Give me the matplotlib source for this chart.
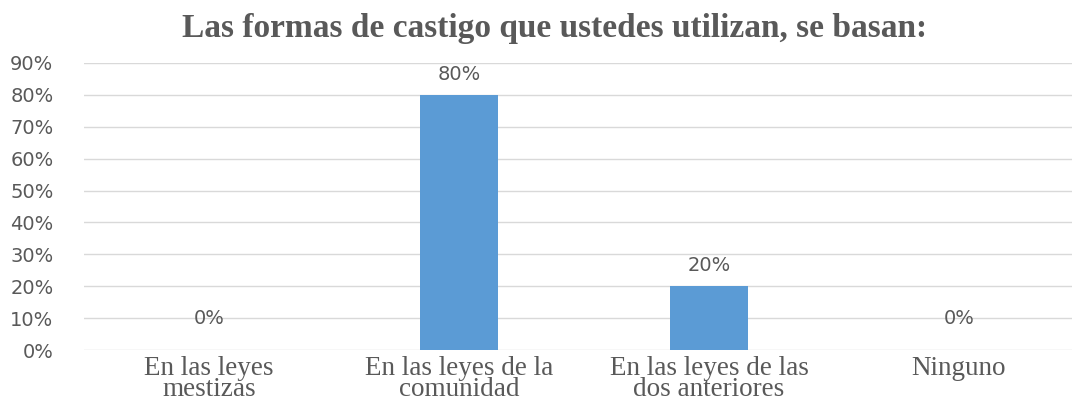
import matplotlib.pyplot as plt
from matplotlib.ticker import PercentFormatter

categories = [
    "En las leyes\nmestizas",
    "En las leyes de la\ncomunidad",
    "En las leyes de las\ndos anteriores",
    "Ninguno",
]
values = [0.0, 0.80, 0.20, 0.0]
value_labels = ["0%", "80%", "20%", "0%"]
y_ticks = [0.0, 0.1, 0.2, 0.3, 0.4, 0.5, 0.6, 0.7, 0.8, 0.9]

TEXT = "#595959"
BAR = "#5B9BD5"
GRID = "#D9D9D9"

W, H = 1072, 404
figure = plt.figure(figsize=(W / 100, H / 100), dpi=100)
axis = figure.add_axes([84 / W, 54 / H, 1000 / W, 287 / H])

x_positions = range(len(categories))
axis.bar(list(x_positions), values, width=0.31, color=BAR, zorder=2)
axis.set_xlim(-0.5, len(categories) - 0.5)
axis.set_ylim(0, 0.9)
axis.set_yticks(y_ticks)
axis.yaxis.set_major_formatter(PercentFormatter(1.0, decimals=0))
axis.grid(axis="y", color=GRID, linewidth=1.0, zorder=0)
axis.set_axisbelow(True)
for side in ["top", "right", "left", "bottom"]:
    axis.spines[side].set_visible(False)
axis.tick_params(axis="y", length=0, pad=22, labelsize=14, labelcolor=TEXT)
axis.tick_params(axis="x", length=0, pad=4)
axis.set_xticks(list(x_positions))
axis.set_xticklabels(categories, fontsize=19.5, family="Liberation Serif",
                     color=TEXT, linespacing=0.8, va="top")

for x, value, label in zip(x_positions, values, value_labels):
    axis.annotate(label, (x, value), xytext=(0, 8 if value > 0 else 16),
                  textcoords="offset points", ha="center", va="bottom",
                  fontsize=14, color=TEXT)

figure.text(555 / W, 1 - 28 / H, "Las formas de castigo que ustedes utilizan, se basan:",
            ha="center", va="center", fontsize=24, fontweight="bold",
            family="Liberation Serif", color=TEXT)

figure.savefig("out.png", dpi=100)
